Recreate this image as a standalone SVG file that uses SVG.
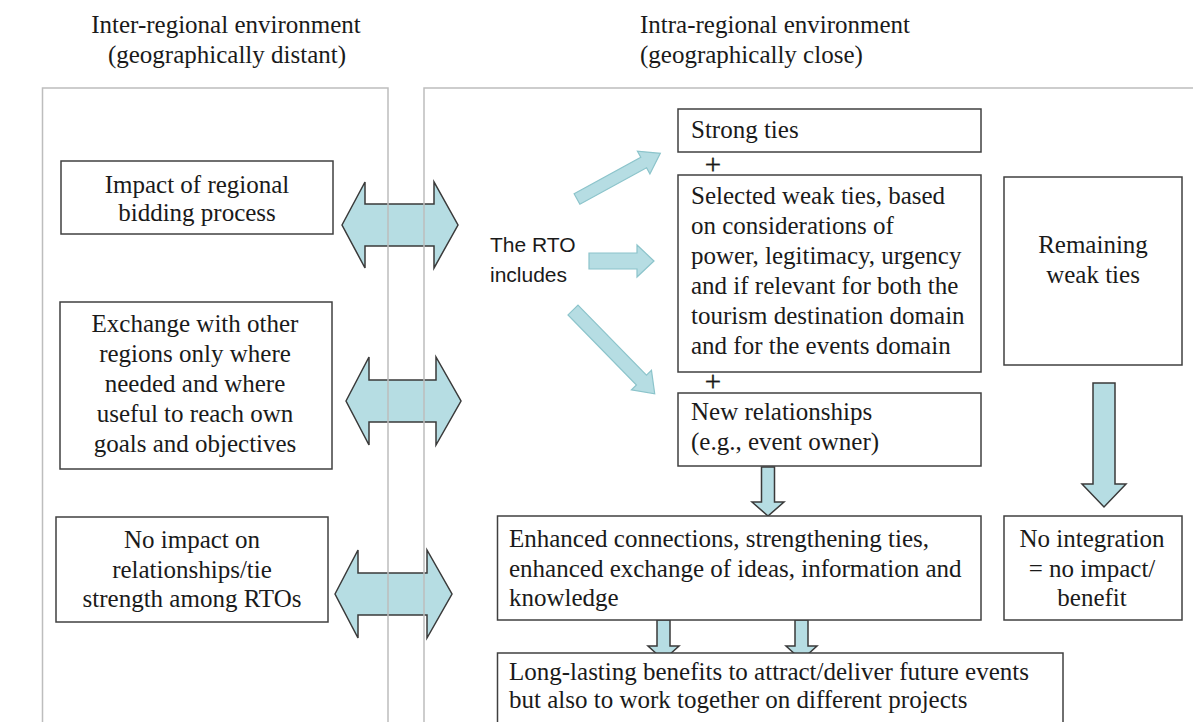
<svg xmlns="http://www.w3.org/2000/svg" width="1193" height="722" viewBox="0 0 1193 722">
<style>
.bg{fill:#ffffff}
.panel{fill:none;stroke:#bdbdbd;stroke-width:1.5}
.box{fill:#ffffff;stroke:#404040;stroke-width:1.5}
.t{font-family:"Liberation Serif","Times New Roman",serif;font-size:25px;fill:#1a1a1a}
.c{text-anchor:middle}
.p{font-family:"Liberation Serif","Times New Roman",serif;font-size:29px;fill:#1a1a1a;stroke:#1a1a1a;stroke-width:0.4;text-anchor:middle}
.s{font-family:"Liberation Sans",Arial,sans-serif;font-size:21px;fill:#1a1a1a}
.big{fill:#b6dde3;stroke:#3a3a3a;stroke-width:1.5;stroke-linejoin:miter}
.sm{fill:#b6dde3;stroke:#8cc4cb;stroke-width:1.2}
</style>
<rect class="bg" x="0" y="0" width="1193" height="722"/>
<g id="titles">
<text class="t c" x="226" y="33">Inter-regional environment</text>
<text class="t c" x="227" y="63">(geographically distant)</text>
<text class="t" x="640" y="33">Intra-regional environment</text>
<text class="t" x="640" y="63">(geographically close)</text>
</g>
<g id="connectors">
<path class="big" d="M342,225 L365,182 L365,204 L434,204 L434,182 L458,225 L434,268 L434,246 L365,246 L365,268 Z"/>
<path class="big" d="M346,401 L369,357 L369,380 L436,380 L436,357 L461,401 L436,445 L436,422 L369,422 L369,445 Z"/>
<path class="big" d="M335,594 L358,550 L358,573 L427,573 L427,550 L452,594 L427,638 L427,615 L358,615 L358,638 Z"/>
<path class="sm" transform="translate(577,199) rotate(-28.7)" d="M0,-6 L76,-6 L76,-13 L95,0 L76,13 L76,6 L0,6 Z"/>
<path class="sm" d="M589,253 L637,253 L637,245 L654,261 L637,277 L637,269 L589,269 Z"/>
<path class="sm" transform="translate(573,310) rotate(45.7)" d="M0,-7 L98,-7 L98,-14 L117,0 L98,14 L98,7 L0,7 Z"/>
<path class="big" d="M761.5,467 L774.5,467 L774.5,502 L784,502 L768,516 L752,502 L761.5,502 Z"/>
<path class="big" d="M1093,383 L1115,383 L1115,484 L1126,484 L1104,507 L1082,484 L1093,484 Z"/>
<path class="big" d="M657,620 L670,620 L670,646 L679,646 L663.5,660 L648,646 L657,646 Z"/>
<path class="big" d="M795,620 L808,620 L808,646 L817,646 L801.5,660 L786,646 L795,646 Z"/>
</g>
<g id="panels">
<rect class="panel" x="42.5" y="88" width="345.5" height="660"/>
<rect class="panel" x="424" y="88" width="800" height="660"/>
</g>
<g id="n-bidding">
<rect class="box" x="61" y="161" width="272" height="73"/>
<text class="t c" x="197" y="193">Impact of regional</text>
<text class="t c" x="197" y="221">bidding process</text>
</g>
<g id="n-exchange">
<rect class="box" x="60" y="302" width="272" height="167"/>
<text class="t c" x="195" y="332">Exchange with other</text>
<text class="t c" x="195" y="362">regions only where</text>
<text class="t c" x="195" y="392">needed and where</text>
<text class="t c" x="195" y="422">useful to reach own</text>
<text class="t c" x="195" y="452">goals and objectives</text>
</g>
<g id="n-noimpact">
<rect class="box" x="56" y="517" width="272" height="105"/>
<text class="t c" x="192" y="548">No impact on</text>
<text class="t c" x="192" y="578">relationships/tie</text>
<text class="t c" x="192" y="607">strength among RTOs</text>
</g>
<g id="n-rto">
<text class="s" x="490" y="252">The RTO</text>
<text class="s" x="490" y="282">includes</text>
</g>
<g id="n-strong">
<rect class="box" x="678" y="109" width="303" height="43"/>
<text class="t" x="691" y="138">Strong ties</text>
</g>
<g id="n-plus1"><text class="p" x="713" y="174">+</text></g>
<g id="n-weak">
<rect class="box" x="678" y="175" width="303" height="197"/>
<text class="t" x="691" y="204">Selected weak ties, based</text>
<text class="t" x="691" y="234">on considerations of</text>
<text class="t" x="691" y="264">power, legitimacy, urgency</text>
<text class="t" x="691" y="294">and if relevant for both the</text>
<text class="t" x="691" y="324">tourism destination domain</text>
<text class="t" x="691" y="354">and for the events domain</text>
</g>
<g id="n-plus2"><text class="p" x="713" y="391">+</text></g>
<g id="n-new">
<rect class="box" x="678" y="393" width="303" height="73"/>
<text class="t" x="691" y="420">New relationships</text>
<text class="t" x="691" y="450">(e.g., event owner)</text>
</g>
<g id="n-remaining">
<rect class="box" x="1004" y="177" width="178" height="188"/>
<text class="t c" x="1093" y="253">Remaining</text>
<text class="t c" x="1093" y="283">weak ties</text>
</g>
<g id="n-enhanced">
<rect class="box" x="497.5" y="516" width="483.5" height="104"/>
<text class="t" x="509" y="547">Enhanced connections, strengthening ties,</text>
<text class="t" x="509" y="577">enhanced exchange of ideas, information and</text>
<text class="t" x="509" y="606">knowledge</text>
</g>
<g id="n-nointegration">
<rect class="box" x="1004" y="516" width="178" height="104"/>
<text class="t c" x="1092" y="547">No integration</text>
<text class="t c" x="1092" y="577">= no impact/</text>
<text class="t c" x="1092" y="606">benefit</text>
</g>
<g id="n-longlasting">
<rect class="box" x="497.5" y="653" width="565.5" height="90"/>
<text class="t" x="509" y="680">Long-lasting benefits to attract/deliver future events</text>
<text class="t" x="509" y="708">but also to work together on different projects</text>
</g>
</svg>
